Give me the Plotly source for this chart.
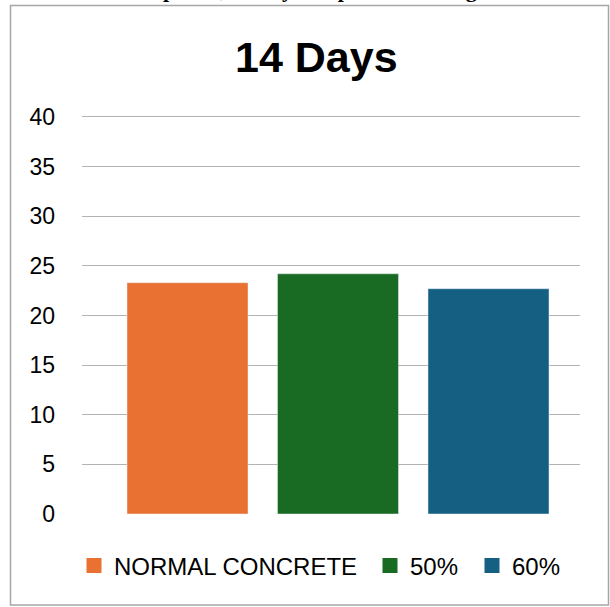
import plotly.graph_objects as go

categories = ["NORMAL CONCRETE", "50%", "60%"]
values = [23.3, 24.2, 22.7]
colors = ["#E97132", "#196B24", "#156082"]
y_ticks = [0, 5, 10, 15, 20, 25, 30, 35, 40]
title_text = "14 Days"
caption_text = "Graph 4.3, 14 day compressive strength"

W, H = 610, 607
L, R, T, B = 82, 30, 114, 93
pw, ph = W - L - R, H - T - B

def px_x(x):
    return (x - L) / pw

def px_y(y):
    return (H - B - y) / ph

fig = go.Figure()
legend_names = ["legend", "legend2", "legend3"]
legend_px = [74, 370, 472]
for i, (c, v, col) in enumerate(zip(categories, values, colors)):
    fig.add_trace(go.Bar(x=[i], y=[v], name=c, marker_color=col, width=0.804,
                         showlegend=False, hoverinfo="y"))
for i, (c, col) in enumerate(zip(categories, colors)):
    fig.add_trace(go.Scatter(x=[None], y=[None], mode="markers", name=c,
                             marker=dict(symbol="square", size=15, color=col),
                             legend=legend_names[i], showlegend=True))

leg_common = dict(orientation="h", yanchor="middle", xanchor="left",
                  font=dict(size=24, color="#000000"), bgcolor="rgba(0,0,0,0)",
                  itemwidth=30)

fig.update_layout(
    width=W, height=H,
    margin=dict(l=L, r=R, t=T, b=B),
    paper_bgcolor="white", plot_bgcolor="white",
    font=dict(family="Liberation Sans, Arial, sans-serif", color="#000000"),
    barmode="overlay",
    legend=dict(x=px_x(legend_px[0]), y=px_y(566), **leg_common),
    legend2=dict(x=px_x(legend_px[1]), y=px_y(566), **leg_common),
    legend3=dict(x=px_x(legend_px[2]), y=px_y(566), **leg_common),
    xaxis=dict(range=[-0.701, 2.608], showticklabels=False, showgrid=False, zeroline=False,
               showline=False, fixedrange=True),
    yaxis=dict(range=[0, 40.3], tickvals=y_ticks, showgrid=True, gridcolor="#B3B3B3",
               gridwidth=1.3, zeroline=False, showline=False,
               tickfont=dict(size=23, color="#000000"), ticklabelstandoff=26),
)

fig.add_annotation(text="<b>" + title_text + "</b>", x=px_x(316), y=px_y(57),
                   xref="paper", yref="paper", showarrow=False,
                   font=dict(size=43, color="#000000", family="Liberation Sans, Arial"),
                   xanchor="center", yanchor="middle")

fig.add_annotation(text="<b>" + caption_text + "</b>", x=px_x(310), y=px_y(-10.5),
                   xref="paper", yref="paper", showarrow=False,
                   font=dict(size=22, color="#000000", family="Liberation Serif, Times New Roman"),
                   xanchor="center", yanchor="middle")

fig.add_shape(type="rect", xref="paper", yref="paper",
              x0=px_x(10.5), x1=px_x(608.5), y0=px_y(605), y1=px_y(5.5),
              line=dict(color="#A6A6A6", width=1.5), fillcolor="rgba(0,0,0,0)", layer="below")

fig.write_html("out.html")
